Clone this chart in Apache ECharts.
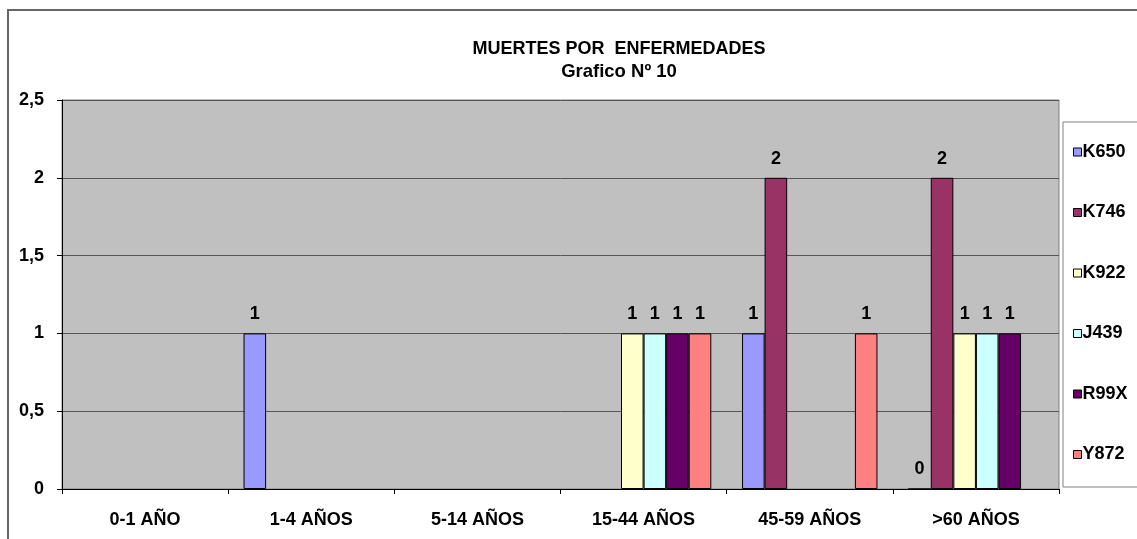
<!DOCTYPE html>
<html>
<head>
<meta charset="utf-8">
<script src="https://cdn.jsdelivr.net/npm/echarts@6/dist/echarts.min.js"></script>
<style>
html,body{margin:0;padding:0;background:#fff;}
#chart{width:1137px;height:539px;}
</style>
</head>
<body>
<div id="chart"></div>
<script>
const categories = ['0-1 AÑO', '1-4 AÑOS', '5-14 AÑOS', '15-44 AÑOS', '45-59 AÑOS', '>60 AÑOS'];
const seriesNames = ['K650', 'K746', 'K922', 'J439', 'R99X', 'Y872'];
const K650 = [null, 1, null, null, 1, 0];
const K746 = [null, null, null, null, 2, 2];
const K922 = [null, null, null, 1, null, 1];
const J439 = [null, null, null, 1, null, 1];
const R99X = [null, null, null, 1, null, 1];
const Y872 = [null, null, null, 1, 1, null];
const seriesValues = [K650, K746, K922, J439, R99X, Y872];
const seriesColors = ['#9999FF', '#993366', '#FFFFCC', '#CCFFFF', '#660066', '#FF8080'];
const yTicks = { min: 0, max: 2.5, interval: 0.5 };

const FONT = '"Liberation Sans", Arial, sans-serif';
const chart = echarts.init(document.getElementById('chart'));
chart.setOption({
  animation: false,
  backgroundColor: '#ffffff',
  textStyle: { fontFamily: FONT },
  title: {
    text: 'MUERTES POR  ENFERMEDADES',
    subtext: 'Grafico Nº 10',
    left: 614, textAlign: 'center', top: 35,
    itemGap: 4,
    textStyle: { fontFamily: FONT, fontSize: 18, fontWeight: 'bold', color: '#000' },
    subtextStyle: { fontFamily: FONT, fontSize: 18.5, fontWeight: 'bold', color: '#000' }
  },
  graphic: [
    { type: 'polyline', shape: { points: [[8, 540], [8, 10], [1140, 10]] }, style: { stroke: '#666', lineWidth: 2, fill: null } },
    { type: 'rect', shape: { x: 1063, y: 122, width: 90, height: 365 }, style: { stroke: '#808080', lineWidth: 1, fill: '#fff' }, z: 0 }
  ],
  legend: {
    orient: 'vertical',
    left: 1068, top: 138,
    itemWidth: 8, itemHeight: 8,
    itemGap: 42.5,
    icon: 'rect',
    textStyle: { fontFamily: FONT, fontSize: 18, fontWeight: 'bold', color: '#000', padding: [0, 0, 0, -4] },
    data: seriesNames.map((n, i) => ({ name: n, itemStyle: { color: seriesColors[i], borderColor: '#000', borderWidth: 1 } }))
  },
  grid: {
    left: 62, right: 78, top: 100, bottom: 50,
    show: true, backgroundColor: '#C0C0C0', borderColor: '#808080', borderWidth: 1
  },
  xAxis: {
    type: 'category',
    data: categories,
    axisLine: { lineStyle: { color: '#000', width: 1 } },
    axisTick: { show: true, alignWithLabel: false, length: 5, lineStyle: { color: '#000' } },
    axisLabel: { fontFamily: FONT, fontSize: 18, fontWeight: 'bold', color: '#000', margin: 22 }
  },
  yAxis: {
    type: 'value',
    min: yTicks.min, max: yTicks.max, interval: yTicks.interval,
    axisLine: { show: true, lineStyle: { color: '#000', width: 1 } },
    axisTick: { show: true, length: 5, lineStyle: { color: '#000' } },
    splitLine: { lineStyle: { color: '#555', width: 1 } },
    axisLabel: { fontFamily: FONT, fontSize: 18, fontWeight: 'bold', color: '#000', margin: 18,
      formatter: v => String(v).replace('.', ',') }
  },
  series: seriesNames.map((n, i) => ({
    name: n,
    type: 'bar',
    data: seriesValues[i].map(v => v === null ? '-' : v),
    barGap: '0%',
    barCategoryGap: '18.5%',
    itemStyle: { color: seriesColors[i], borderColor: '#000', borderWidth: 1 },
    label: { show: true, position: 'top', distance: 10, fontFamily: FONT, fontSize: 18, fontWeight: 'bold', color: '#000' }
  }))
});
</script>
</body>
</html>
